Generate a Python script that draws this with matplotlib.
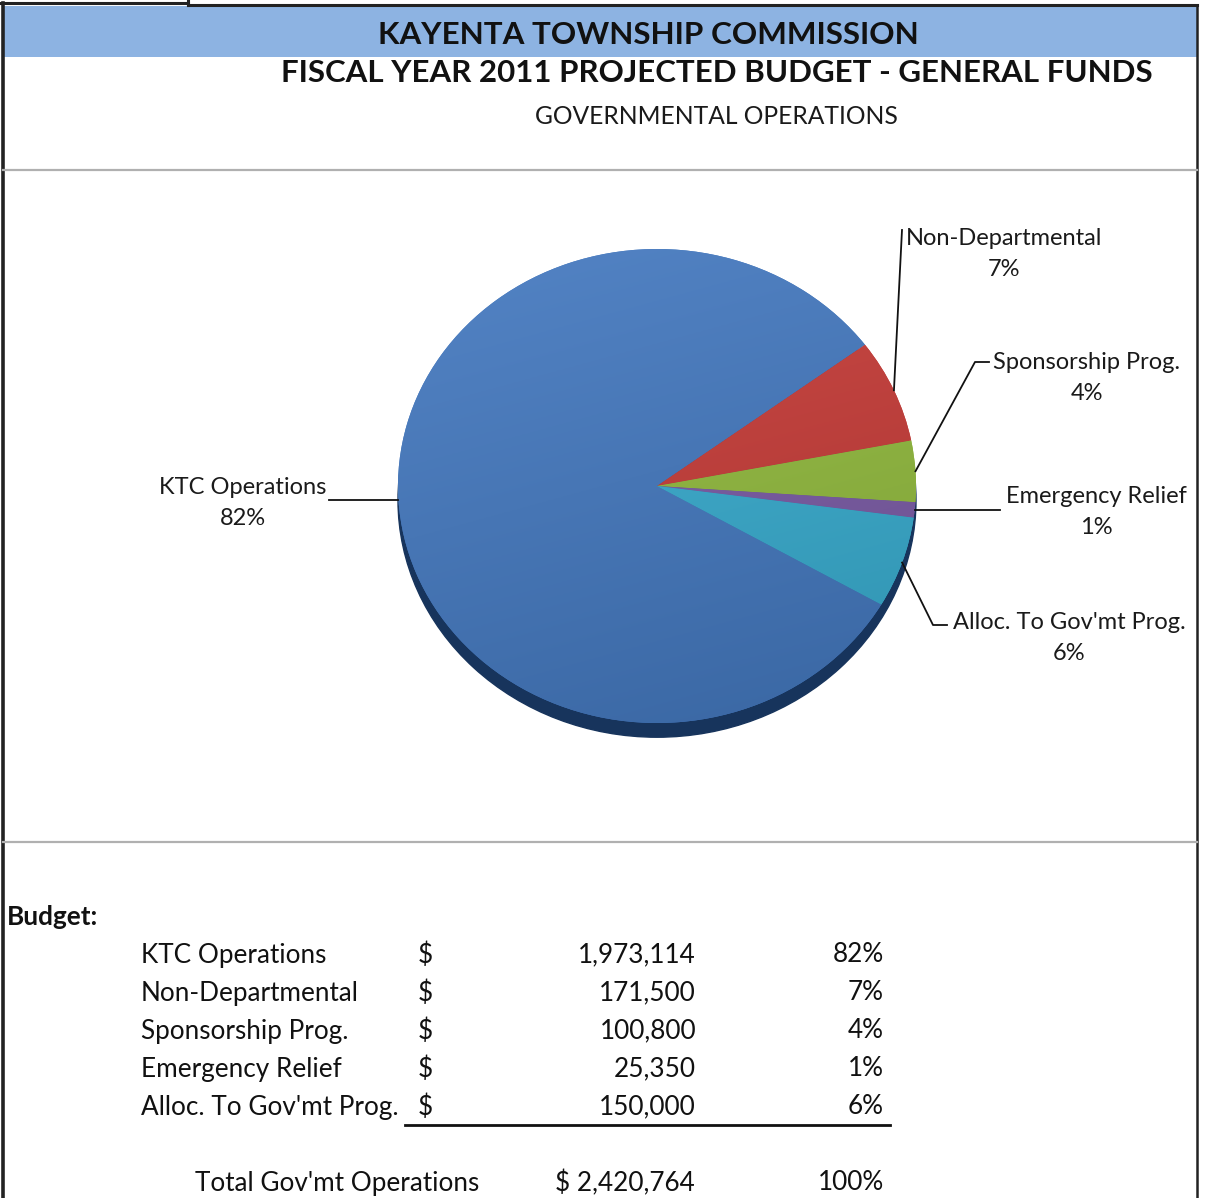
import numpy as np
import matplotlib
matplotlib.use("Agg")
import matplotlib.pyplot as plt
from matplotlib.colors import to_rgb
from matplotlib.patches import Ellipse

plt.rcParams['font.family'] = ['Lato', 'DejaVu Sans']

# budget data
categories = ['KTC Operations', 'Non-Departmental', 'Sponsorship Prog.',
              'Emergency Relief', "Alloc. To Gov'mt Prog."]
amounts = [1973114, 171500, 100800, 25350, 150000]
pct_labels = ['82%', '7%', '4%', '1%', '6%']
total_label = "Total Gov'mt Operations"
total_amount = 2420764

colors = ['#4479C0', '#C83C38', '#93BC3E', '#7B5BA6', '#38ADD0']

W, H = 1205, 1198
fig = plt.figure(figsize=(W / 100, H / 100), dpi=100)

# overlay axes in pixel coords
ov = fig.add_axes([0, 0, 1, 1])
ov.set_xlim(0, W)
ov.set_ylim(H, 0)
ov.axis('off')
ov.set_zorder(3)
ov.patch.set_alpha(0)

# frame and header band
ov.add_patch(plt.Rectangle((3, 6), 1194, 51, color='#8DB3E2', lw=0))
ov.plot([0, 188], [3, 3], color='#222222', lw=2.2)
ov.plot([188, 188], [0, 5], color='#222222', lw=2.2)
ov.plot([188, 1197], [5, 5], color='#222222', lw=2.2)
ov.plot([3, 3], [3, H], color='#222222', lw=2.6)
ov.plot([1197, 1197], [5, H], color='#222222', lw=1.8)
ov.plot([3, 1197], [170, 170], color='#b0b0b0', lw=1.6)
ov.plot([3, 1197], [842, 842], color='#b0b0b0', lw=1.6)

ov.text(648, 35, 'KAYENTA TOWNSHIP COMMISSION', ha='center', va='center',
        fontsize=22.6, fontweight='bold', color='#111111')
ov.text(717, 73, 'FISCAL YEAR 2011 PROJECTED BUDGET - GENERAL FUNDS', ha='center',
        va='center', fontsize=22.5, fontweight='bold', color='#111111')
ov.text(716, 116, 'GOVERNMENTAL OPERATIONS', ha='center', va='center',
        fontsize=17.7, color='#1a1a1a')

# pie axes (ellipse, 3d look)
cx, cy, rx, ry = 657, 486, 259, 237
lim = 1.1
pw, ph = 2 * lim * rx, 2 * lim * ry
pax = fig.add_axes([(cx - pw / 2) / W, (H - cy - ph / 2) / H, pw / W, ph / H])
wedges, _ = pax.pie(amounts, colors=colors, startangle=-30, counterclock=False,
                    wedgeprops=dict(lw=0))
pax.set_aspect('auto')
pax.set_xlim(-lim, lim)
pax.set_ylim(-lim, lim)
pax.axis('off')

# dark side of the pie
pax.add_patch(Ellipse((0, -0.06), 2.0, 2.0, color='#17345C', zorder=0))

# gradient fill clipped to each wedge
gx, gy = np.meshgrid(np.linspace(-1, 1, 200), np.linspace(1, -1, 200))
grad = (gx * 0.3 - gy) / 2.6 + 0.5
for w, c in zip(wedges, colors):
    base = np.array(to_rgb(c))
    light = base + (1 - base) * 0.08
    dark = base * 0.85
    img = light[None, None, :] * (1 - grad[..., None]) + dark[None, None, :] * grad[..., None]
    im = pax.imshow(img, extent=(-1, 1, -1, 1), aspect='auto', zorder=2)
    im.set_clip_path(w)

# leader lines + labels
def edge_px(w, r=1.0):
    ang = np.deg2rad((w.theta1 + w.theta2) / 2)
    p = pax.transData.transform((r * np.cos(ang), r * np.sin(ang)))
    return ov.transData.inverted().transform(p)

lab_fs = 17
label_pos = [(243, 503), (1004, 254), (1087, 378), (1096, 512), (1069, 638)]
# None for y means: keep the line horizontal
leader_pts = [[(329, None)], [(902, 230)], [(975, 362), (989, 362)],
              [(1000, None)], [(933, 625), (947, 625)]]
for i, w in enumerate(wedges):
    ex, ey = edge_px(w)
    pts = [(ex, ey)] + [(x, ey if y is None else y) for x, y in leader_pts[i]]
    xs, ys = zip(*pts)
    ov.plot(xs, ys, color='#111111', lw=1.3)
    lx, ly = label_pos[i]
    ov.text(lx, ly, categories[i] + '\n' + pct_labels[i], ha='center', va='center',
            fontsize=lab_fs, color='#1a1a1a', linespacing=1.6)

# budget table
tab_fs = 18.8
ov.text(7, 917, 'Budget:', ha='left', va='center', fontsize=18.8, fontweight='bold',
        color='#111111')
row_y = [955, 993, 1031, 1069, 1107]
for y, name, amt, p in zip(row_y, categories, amounts, pct_labels):
    ov.text(141, y, name, ha='left', va='center', fontsize=tab_fs, color='#111111')
    ov.text(418, y, '$', ha='left', va='center', fontsize=tab_fs, color='#111111')
    ov.text(696, y, f'{amt:,}', ha='right', va='center', fontsize=tab_fs, color='#111111')
    ov.text(884, y, p, ha='right', va='center', fontsize=tab_fs, color='#111111')
ov.plot([405, 890], [1125, 1125], color='#111111', lw=2)
ov.text(195, 1183, total_label, ha='left', va='center', fontsize=tab_fs, color='#111111')
ov.text(555, 1183, f'$ {total_amount:,}', ha='left', va='center', fontsize=tab_fs,
        color='#111111')
ov.text(884, 1183, '100%', ha='right', va='center', fontsize=tab_fs, color='#111111')

fig.savefig('out.png', dpi=100, facecolor='white')
